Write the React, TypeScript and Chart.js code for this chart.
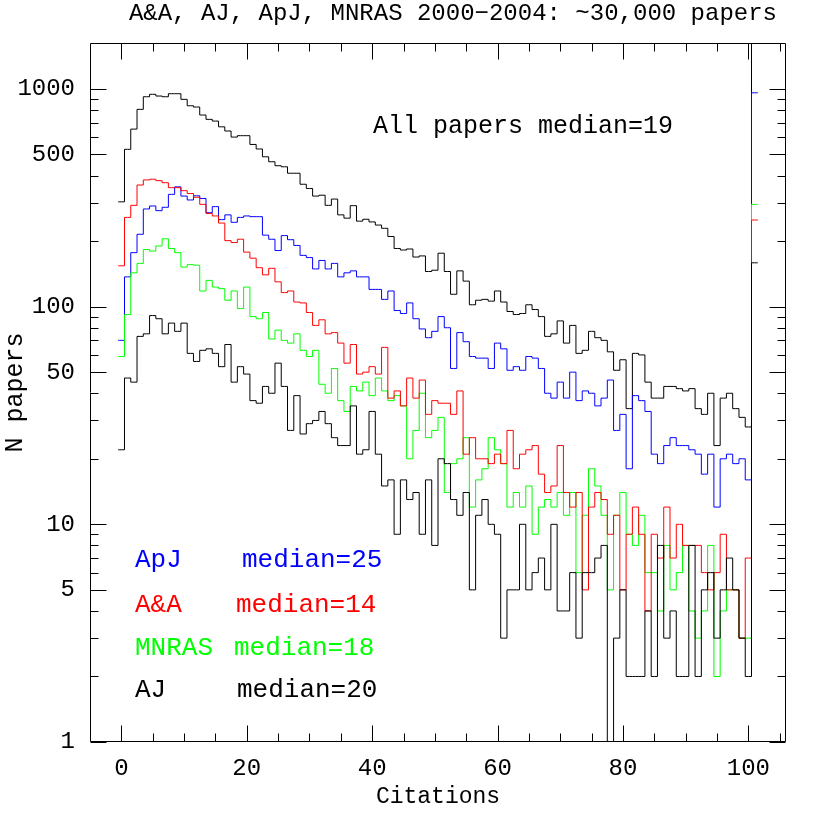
import React, { useEffect, useRef } from 'react';
import { Chart, registerables } from 'chart.js';

Chart.register(...registerables);

// ---- data: papers per citation bin (bin centres 0..100, last bin = overflow) ----
const allPapers = [303, 528, 654, 806, 921, 945, 928, 921, 951, 951,
  896, 837, 826, 759, 725, 712, 670, 641, 601, 610,
  610, 556, 530, 488, 463, 444, 439, 410, 410, 365,
  349, 322, 325, 292, 312, 264, 255, 291, 247, 252,
  245, 237, 229, 210, 185, 182, 184, 169, 171, 145,
  147, 176, 145, 114, 146, 131, 102, 107, 108, 106,
  118, 105, 95, 92, 93, 102, 97, 90, 73, 75,
  86, 68, 82, 61, 63, 77, 72, 70, 62, 51,
  57, 34, 61, 60, 45, 38, 38, 43, 43, 42,
  41, 42, 34, 32, 40, 23, 38, 40, 34, 31,
  28, 1664];

const apj = [70, 137, 177, 215, 281, 290, 276, 286, 328, 355,
  322, 309, 323, 314, 270, 288, 251, 264, 244, 257,
  261, 259, 259, 213, 204, 181, 212, 203, 191, 172,
  168, 149, 163, 149, 158, 137, 143, 146, 137, 137,
  120, 120, 108, 118, 96, 93, 104, 88, 79, 72,
  77, 90, 80, 52, 76, 69, 59, 58, 58, 52,
  68, 64, 51, 53, 51, 59, 58, 52, 40, 38,
  45, 38, 50, 37, 41, 40, 35, 38, 46, 27,
  32, 18, 39, 37, 33, 21, 19, 23, 25, 23,
  23, 22, 21, 17, 21, 12, 20, 21, 19, 20,
  16, 960];

const aanda = [154, 257, 292, 362, 382, 385, 379, 371, 352, 352,
  341, 331, 318, 295, 268, 261, 242, 201, 197, 204,
  178, 167, 151, 140, 150, 130, 116, 118, 105, 104,
  94, 82, 87, 75, 76, 68, 55, 67, 49, 50,
  53, 49, 65, 38, 41, 35, 47, 38, 46, 32,
  37, 36, 36, 32, 41, 21, 25, 20, 20, 19,
  21, 19, 27, 18, 21, 22, 23, 17, 14, 15,
  23, 14, 12, 14, 5, 12, 14, 13, 9, 11,
  5, 9, 12, 9, 4, 9, 7, 12, 7, 10,
  8, 8, 8, 6, 5, 6, 9, 5, 5, 3,
  7, 250];

const mnras = [59, 92, 143, 158, 183, 180, 190, 205, 185, 177,
  152, 156, 155, 118, 132, 123, 121, 107, 118, 98,
  123, 90, 88, 94, 71, 78, 70, 68, 75, 63,
  59, 63, 44, 40, 52, 37, 33, 43, 41, 45,
  39, 47, 41, 37, 39, 35, 20, 27, 40, 25,
  27, 31, 14, 19, 20, 25, 12, 16, 18, 25,
  22, 19, 12, 14, 12, 15, 9, 12, 13, 12,
  14, 11, 14, 6, 11, 18, 15, 11, 5, 11,
  14, 9, 8, 11, 6, 6, 4, 8, 5, 6,
  8, 4, 3, 4, 8, 2, 4, 5, 5, 3,
  3, 295];

const aj = [22, 47, 45, 73, 75, 91, 88, 75, 84, 77,
  84, 61, 56, 63, 64, 61, 53, 67, 45, 53,
  49, 37, 36, 43, 40, 55, 43, 27, 39, 26,
  29, 30, 33, 29, 25, 23, 23, 35, 21, 22,
  33, 21, 15, 16, 9, 16, 13, 14, 9, 16,
  8, 20, 19, 13, 11, 14, 5, 11, 13, 10,
  9, 3, 5, 5, 10, 5, 6, 7, 5, 10,
  4, 4, 6, 3, 6, 6, 7, 8, 0, 3,
  5, 2, 2, 2, 4, 2, 8, 3, 4, 2,
  2, 8, 2, 5, 6, 3, 5, 7, 5, 3,
  2, 159];

const journals = ['ApJ', 'A&A', 'MNRAS', 'AJ'];
const journalMedians = [25, 14, 18, 20];
const allMedian = 19;

const xLabelTicks = [0, 20, 40, 60, 80, 100];
const xTickMarks = [0, 5, 10, 15, 20, 25, 30, 35, 40, 45, 50, 55, 60, 65, 70, 75, 80, 85, 90, 95, 100, 105];
const yLabelTicks = [1, 5, 10, 50, 100, 500, 1000];
const yTickMarks = [1, 2, 3, 4, 5, 6, 7, 8, 9, 10, 20, 30, 40, 50, 60, 70, 80, 90,
  100, 200, 300, 400, 500, 600, 700, 800, 900, 1000];

const TITLE = 'A&A, AJ, ApJ, MNRAS 2000\u22122004: ~30,000 papers';
const FONT = "'Liberation Mono', 'DejaVu Sans Mono', monospace";

const BLUE = '#0000ff';
const RED = '#ff0000';
const GREEN = '#00ff00';
const BLACK = '#000000';
const journalColors = [BLUE, RED, GREEN, BLACK];

// empty bins are drawn below the log axis floor (clipped), like the original
const LOG_FLOOR = 0.1;

function histPoints(values: number[]) {
  const pts = values.map((v, i) => ({ x: i, y: v > 0 ? v : LOG_FLOOR }));
  const first = pts[0];
  const last = pts[pts.length - 1];
  return [{ x: first.x - 0.5, y: first.y }, ...pts, { x: last.x + 0.5, y: last.y }];
}

function drawText(ctx: any, s: string, x: number, y: number, size: number, color: string,
  align: string = 'left', spacing = 0) {
  ctx.font = `${size}px ${FONT}`;
  ctx.letterSpacing = `${spacing}px`;
  ctx.fillStyle = color;
  ctx.textAlign = align;
  ctx.textBaseline = 'alphabetic';
  ctx.fillText(s, x, y);
}

const decorPlugin = {
  id: 'decor',
  afterDraw(chart: any) {
    const { ctx, chartArea, scales } = chart;
    const { left, right, top, bottom } = chartArea;
    const xs = scales.x;
    const ys = scales.y;
    ctx.save();
    ctx.strokeStyle = BLACK;
    ctx.lineWidth = 1;
    const L = Math.round(left) + 0.5;
    const R = Math.round(right) - 0.5;
    const T = Math.round(top) + 0.5;
    const B = Math.round(bottom) - 0.5;
    ctx.beginPath();
    ctx.rect(L, T, R - L, B - T);
    // x tick marks (inward, bottom and top)
    xTickMarks.forEach((v) => {
      const px = Math.round(xs.getPixelForValue(v)) + 0.5;
      const len = v % 20 === 0 ? 16 : 8;
      ctx.moveTo(px, B);
      ctx.lineTo(px, B - len);
      ctx.moveTo(px, T);
      ctx.lineTo(px, T + len);
    });
    // y tick marks (inward, left and right)
    yTickMarks.forEach((v) => {
      const py = Math.round(ys.getPixelForValue(v)) + 0.5;
      const len = yLabelTicks.includes(v) ? 16 : 8;
      ctx.moveTo(L, py);
      ctx.lineTo(L + len, py);
      ctx.moveTo(R, py);
      ctx.lineTo(R - len, py);
    });
    ctx.stroke();

    // title and annotations
    drawText(ctx, TITLE, 777, 20, 24, BLACK, 'right');
    drawText(ctx, `All papers median=${allMedian}`, 373, 133, 25, BLACK);
    const nameBase = [567, 612, 655, 697];
    const medX = [242, 236, 234, 237];
    journals.forEach((j, i) => {
      drawText(ctx, j, 135, nameBase[i], 26, journalColors[i]);
      drawText(ctx, `median=${journalMedians[i]}`, medX[i], nameBase[i], 26, journalColors[i]);
    });

    // axis titles
    drawText(ctx, 'Citations', (left + right) / 2, 803, 23, BLACK, 'center');
    ctx.save();
    ctx.translate(22, (top + bottom) / 2);
    ctx.rotate(-Math.PI / 2);
    drawText(ctx, 'N papers', 0, 0, 25, BLACK, 'center');
    ctx.restore();
    ctx.restore();
  },
};

export default function App() {
  const ref = useRef<HTMLCanvasElement | null>(null);

  useEffect(() => {
    document.body.style.margin = '0';
    const canvas = ref.current;
    if (!canvas) return;

    const series = [
      { label: 'AJ', values: aj, color: BLACK },
      { label: 'A&A', values: aanda, color: RED },
      { label: 'MNRAS', values: mnras, color: GREEN },
      { label: 'ApJ', values: apj, color: BLUE },
      { label: 'All papers', values: allPapers, color: BLACK },
    ];

    const tickFont = { family: FONT, size: 24 };

    const chart = new Chart(canvas, {
      type: 'line',
      data: {
        datasets: series.map((s) => ({
          label: s.label,
          data: histPoints(s.values),
          borderColor: s.color,
          backgroundColor: s.color,
          borderWidth: 1,
          pointRadius: 0,
          fill: false,
          stepped: 'middle',
          tension: 0,
        })),
      },
      options: {
        animation: false,
        responsive: false,
        devicePixelRatio: 1,
        events: [],
        layout: { padding: { left: 0, right: 44, top: 43, bottom: 0 }, autoPadding: false },
        plugins: {
          legend: { display: false },
          tooltip: { enabled: false },
          title: { display: false },
        },
        scales: {
          x: {
            type: 'linear',
            min: -5,
            max: 106,
            afterBuildTicks: (s: any) => {
              s.ticks = xLabelTicks.map((v) => ({ value: v }));
            },
            afterFit: (s: any) => {
              s.height = 88;
              s.paddingLeft = 0;
              s.paddingRight = 0;
            },
            grid: { display: false, drawTicks: false },
            border: { display: false },
            ticks: {
              callback: (v: any) => String(v),
              font: tickFont,
              color: BLACK,
              padding: 12,
              maxRotation: 0,
              autoSkip: false,
            },
          },
          y: {
            type: 'logarithmic',
            min: 1,
            max: 1626,
            afterBuildTicks: (s: any) => {
              s.ticks = yLabelTicks.map((v) => ({ value: v }));
            },
            afterFit: (s: any) => {
              s.width = 90;
              s.paddingTop = 0;
              s.paddingBottom = 0;
            },
            grid: { display: false, drawTicks: false },
            border: { display: false },
            ticks: {
              callback: (v: any) => String(v),
              font: tickFont,
              color: BLACK,
              padding: 15,
              autoSkip: false,
            },
          },
        },
      },
      plugins: [decorPlugin],
    });

    return () => {
      chart.destroy();
    };
  }, []);

  return (
    <div style={{ width: 830, height: 830, background: '#fff' }}>
      <canvas ref={ref} width={830} height={830} style={{ display: 'block' }} />
    </div>
  );
}
